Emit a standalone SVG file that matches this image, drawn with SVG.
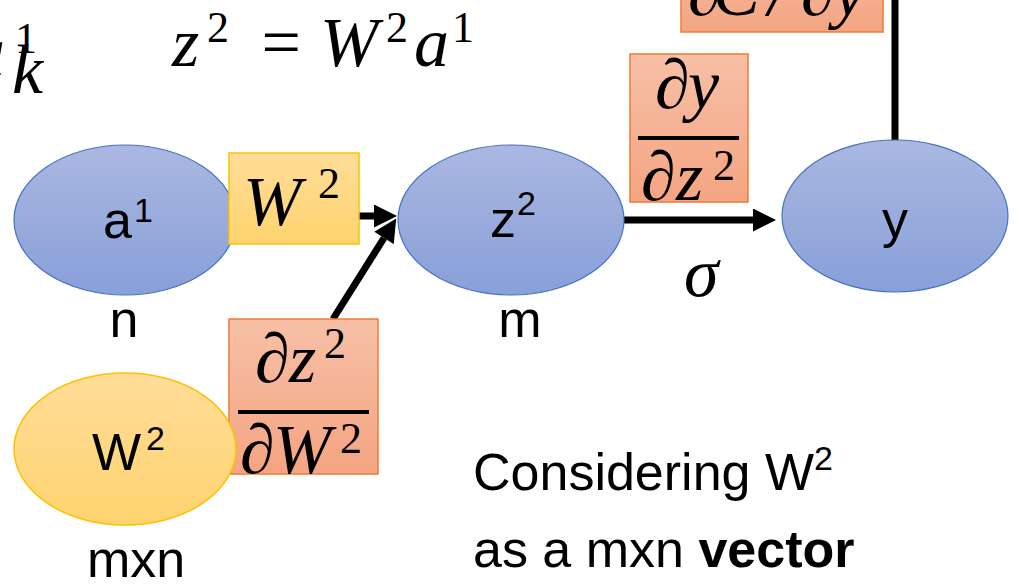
<svg xmlns="http://www.w3.org/2000/svg" width="1019" height="584" viewBox="0 0 1019 584">
<defs>
<linearGradient id="gBlue" x1="0" y1="0" x2="0" y2="1"><stop offset="0" stop-color="#AAB8E1"/><stop offset="1" stop-color="#889FD8"/></linearGradient>
<linearGradient id="gYel" x1="0" y1="0" x2="0" y2="1"><stop offset="0" stop-color="#FFDD98"/><stop offset="1" stop-color="#FFD36F"/></linearGradient>
<linearGradient id="gOr" x1="0" y1="0" x2="0" y2="1"><stop offset="0" stop-color="#F7C0A6"/><stop offset="1" stop-color="#F4A482"/></linearGradient>
<marker id="arr" viewBox="0 0 10 10" refX="0" refY="5" markerUnits="userSpaceOnUse" markerWidth="24" markerHeight="23" orient="auto"><path d="M0,0 L10,5 L0,10 z" fill="#000"/></marker>
<style>
.blue{fill:url(#gBlue);stroke:#4472C4;stroke-width:1.2}
.yel{fill:url(#gYel);stroke:#FFC000;stroke-width:1.5}
.or{fill:url(#gOr);stroke:#ED7D31;stroke-width:1.5}
.lbl{font-family:"Liberation Sans",Arial,sans-serif;font-size:52px;fill:#000}
.sup{font-family:"Liberation Sans",Arial,sans-serif;font-size:34px;fill:#000}
.m{font-family:"Liberation Serif","Times New Roman",serif;font-style:italic;font-size:70px;fill:#000}
.ms{font-family:"Liberation Serif","Times New Roman",serif;font-size:44px;fill:#000}
.conn{stroke:#000;stroke-width:7;fill:none}
</style>
</defs>
<rect width="1019" height="584" fill="#fff"/>

<g id="equation">
<text class="m" x="-30" y="75">a</text>
<text class="ms" x="15" y="53">1</text>
<text class="m" x="12" y="93" font-size="46">k</text>
<text class="m" x="172" y="66">z</text>
<text class="ms" x="207" y="42">2</text>
<text class="m" x="257" y="66" font-style="normal">=</text>
<text class="m" x="320" y="66">W</text>
<text class="ms" x="386" y="42">2</text>
<text class="m" x="414" y="66">a</text>
<text class="ms" x="452" y="42">1</text>
</g>

<g id="connectors">
<line class="conn" x1="895" y1="0" x2="895" y2="142"/>
<line class="conn" x1="624" y1="220" x2="753" y2="220" marker-end="url(#arr)"/>
<line class="conn" x1="359" y1="216" x2="374" y2="216" marker-end="url(#arr)"/>
<line class="conn" x1="333" y1="319" x2="384" y2="238" marker-end="url(#arr)"/>
</g>

<g id="node-a1">
<ellipse class="blue" cx="125" cy="220" rx="111" ry="75"/>
<text class="lbl" x="103" y="238">a</text>
<text class="sup" x="134" y="222">1</text>
<text class="lbl" x="124" y="337" text-anchor="middle">n</text>
</g>

<g id="box-W2">
<rect class="yel" x="229" y="153" width="130" height="91"/>
<text class="m" x="243" y="225" font-size="82">W</text>
<text class="ms" x="318" y="198" font-size="50">2</text>
</g>

<g id="node-z2">
<ellipse class="blue" cx="511" cy="220" rx="113" ry="75"/>
<text class="lbl" x="490" y="237">z</text>
<text class="sup" x="517" y="215">2</text>
<text class="lbl" x="520" y="337" text-anchor="middle">m</text>
</g>

<g id="node-y">
<ellipse class="blue" cx="895" cy="216" rx="113" ry="76"/>
<text class="lbl" x="882" y="237">y</text>
</g>

<g id="box-dCdy">
<rect class="or" x="681" y="-60" width="202" height="92"/>
<text class="m" x="688" y="15">∂</text>
<text class="m" x="713" y="15">C</text>
<text class="m" x="768" y="15">/</text>
<text class="m" x="801" y="15">∂</text>
<text class="m" x="834" y="15">y</text>
</g>

<g id="box-dydz2">
<rect class="or" x="630" y="54" width="118" height="148"/>
<text class="m" x="655" y="108">∂</text>
<text class="m" x="688" y="108">y</text>
<rect x="638" y="136" width="101" height="4" fill="#000"/>
<text class="m" x="641" y="200">∂</text>
<text class="m" x="676" y="200">z</text>
<text class="ms" x="713" y="180">2</text>
</g>

<g id="label-sigma">
<text class="m" x="684" y="296">σ</text>
</g>

<g id="box-dz2dW2">
<rect class="or" x="229" y="319" width="149" height="155"/>
<text class="m" x="255" y="382">∂</text>
<text class="m" x="289" y="382">z</text>
<text class="ms" x="324" y="358">2</text>
<rect x="238" y="410" width="131" height="4" fill="#000"/>
<text class="m" x="240" y="473">∂</text>
<text class="m" x="273" y="473">W</text>
<text class="ms" x="340" y="453">2</text>
</g>

<g id="node-W2">
<ellipse class="yel" cx="125" cy="449" rx="111" ry="76"/>
<text class="lbl" x="92" y="470">W</text>
<text class="sup" x="146" y="450">2</text>
<text class="lbl" x="136" y="577" text-anchor="middle">mxn</text>
</g>

<g id="note">
<text class="lbl" x="473" y="490">Considering W<tspan font-size="34" dy="-20">2</tspan></text>
<text class="lbl" x="473" y="567">as a mxn <tspan font-weight="bold">vector</tspan></text>
</g>
</svg>
